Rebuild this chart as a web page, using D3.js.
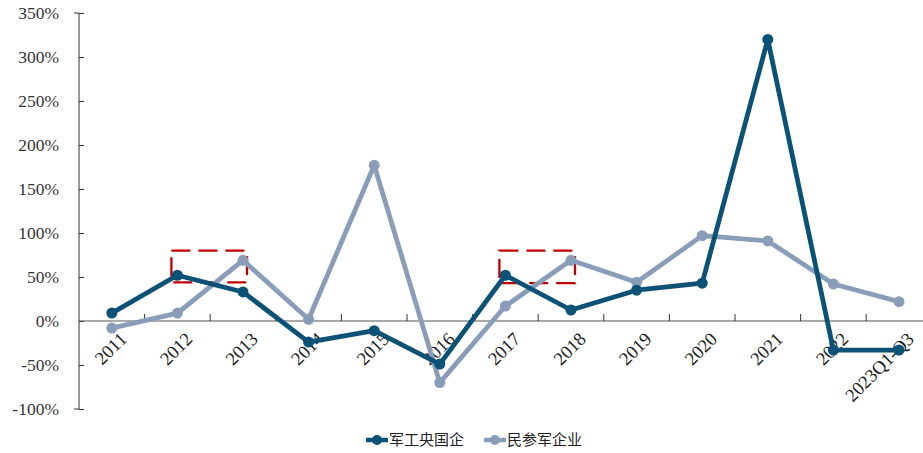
<!DOCTYPE html>
<html>
<head>
<meta charset="utf-8">
<script src="https://cdn.jsdelivr.net/npm/d3@7"></script>
<style>
body{margin:0;background:#fff;}
</style>
</head>
<body>
<svg width="923" height="453"></svg>
<script>
var categories = ["2011","2012","2013","2014","2015","2016","2017","2018","2019","2020","2021","2022","2023Q1-Q3"];
var soeValues = [9, 52, 33, -24, -11, -49, 52, 12.5, 35, 43, 320, -33, -33];
var privValues = [-8, 9, 69, 2, 177, -70, 17, 69, 44, 97, 91, 42, 22];
var yTicks = [-100, -50, 0, 50, 100, 150, 200, 250, 300, 350];
var seriesNames = ["军工央国企", "民参军企业"];
var colors = ["#0b5276", "#8a9db8"];
// 红色虚线框标注：[起始类目, 结束类目, 上沿%, 下沿%]
var boxes = [["2012","2013",80,44],["2017","2018",80,43]];

var svg = d3.select("svg");
var width = +svg.attr("width");
var height = +svg.attr("height");
var marge = {top:13,left:79};

var xScale = d3.scaleBand()
	.domain(categories)
	.range([marge.left, marge.left + 65.6*categories.length]);
var yScale = d3.scaleLinear()
	.domain([-100,350])
	.range([409,13]);

//y轴
var yAxis = d3.axisLeft(yScale)
	.tickValues(yTicks)
	.tickSize(5)
	.tickFormat(function(d){return d+"%";});
var gy = svg.append("g")
	.attr("transform","translate("+marge.left+",0)")
	.call(yAxis);
gy.select(".domain").attr("stroke","#333").attr("d","M-5,"+yScale(350)+"H0V"+yScale(-100)+"H-5");
gy.selectAll(".tick line").attr("stroke","#333").attr("x1",0).attr("x2",5);
gy.selectAll(".tick text")
	.attr("x",-20)
	.attr("font-family","Liberation Serif, serif")
	.attr("font-size",17.5)
	.attr("fill","#333");

//x轴 (在0%位置)
var xAxis = d3.axisBottom(xScale).tickSize(0).tickFormat("");
var gx = svg.append("g")
	.attr("transform","translate(0,"+yScale(0)+")")
	.call(xAxis);
gx.select(".domain").attr("stroke","#555").attr("stroke-width",1.2).attr("d","M"+marge.left+",0H"+(marge.left+65.6*categories.length));
gx.selectAll(".tick").remove();
//类目之间的刻度
gx.selectAll(".sep")
	.data(categories.slice(1))
	.enter()
	.append("line")
	.attr("x1",function(d){return xScale(d);})
	.attr("x2",function(d){return xScale(d);})
	.attr("y1",0)
	.attr("y2",-7)
	.attr("stroke","#333");

//x轴文字
svg.selectAll(".xlab")
	.data(categories)
	.enter()
	.append("text")
	.attr("transform",function(d){
		return "translate("+(xScale(d)+xScale.bandwidth()/2+7)+","+(yScale(0)+10)+") rotate(-45)";
	})
	.attr("text-anchor","end")
	.attr("dy","0.7em")
	.attr("font-family","Liberation Serif, serif")
	.attr("font-size",18.5)
	.attr("fill","#222")
	.text(function(d){return d;});

//红色虚线框
svg.selectAll(".box")
	.data(boxes)
	.enter()
	.append("rect")
	.attr("x",function(d){return xScale(d[0])+xScale.bandwidth()/2-6;})
	.attr("y",function(d){return yScale(d[2]);})
	.attr("width",function(d){return xScale(d[1])-xScale(d[0])+10;})
	.attr("height",function(d){return yScale(d[3])-yScale(d[2]);})
	.attr("fill","none")
	.attr("stroke","#c00000")
	.attr("stroke-width",2.3)
	.attr("stroke-dasharray","19,8");

//折线
var line = d3.line()
	.x(function(d,i){return xScale(categories[i])+xScale.bandwidth()/2;})
	.y(function(d){return yScale(d);});

var series = [privValues, soeValues];
var seriesColors = [colors[1], colors[0]];
series.forEach(function(vals,k){
	svg.append("path")
		.attr("d",line(vals))
		.attr("fill","none")
		.attr("stroke",seriesColors[k])
		.attr("stroke-width",4.8)
		.attr("stroke-linejoin","round");
	svg.selectAll(".pt"+k)
		.data(vals)
		.enter()
		.append("circle")
		.attr("cx",function(d,i){return xScale(categories[i])+xScale.bandwidth()/2;})
		.attr("cy",function(d){return yScale(d);})
		.attr("r",5.5)
		.attr("fill",seriesColors[k]);
});

//图例
var legendX = [366, 484];
var lg = svg.selectAll(".legend")
	.data(seriesNames)
	.enter()
	.append("g")
	.attr("transform",function(d,i){return "translate("+legendX[i]+",440)";});
lg.append("line")
	.attr("x1",0).attr("x2",22).attr("y1",0).attr("y2",0)
	.attr("stroke",function(d,i){return colors[i];})
	.attr("stroke-width",4.5);
lg.append("circle")
	.attr("cx",11).attr("cy",0).attr("r",5)
	.attr("fill",function(d,i){return colors[i];});
lg.append("text")
	.attr("x",23)
	.attr("dy","0.35em")
	.attr("font-family","Noto Sans CJK SC")
	.attr("font-size",15)
	.attr("fill","#222")
	.text(function(d){return d;});
</script>
</body>
</html>
